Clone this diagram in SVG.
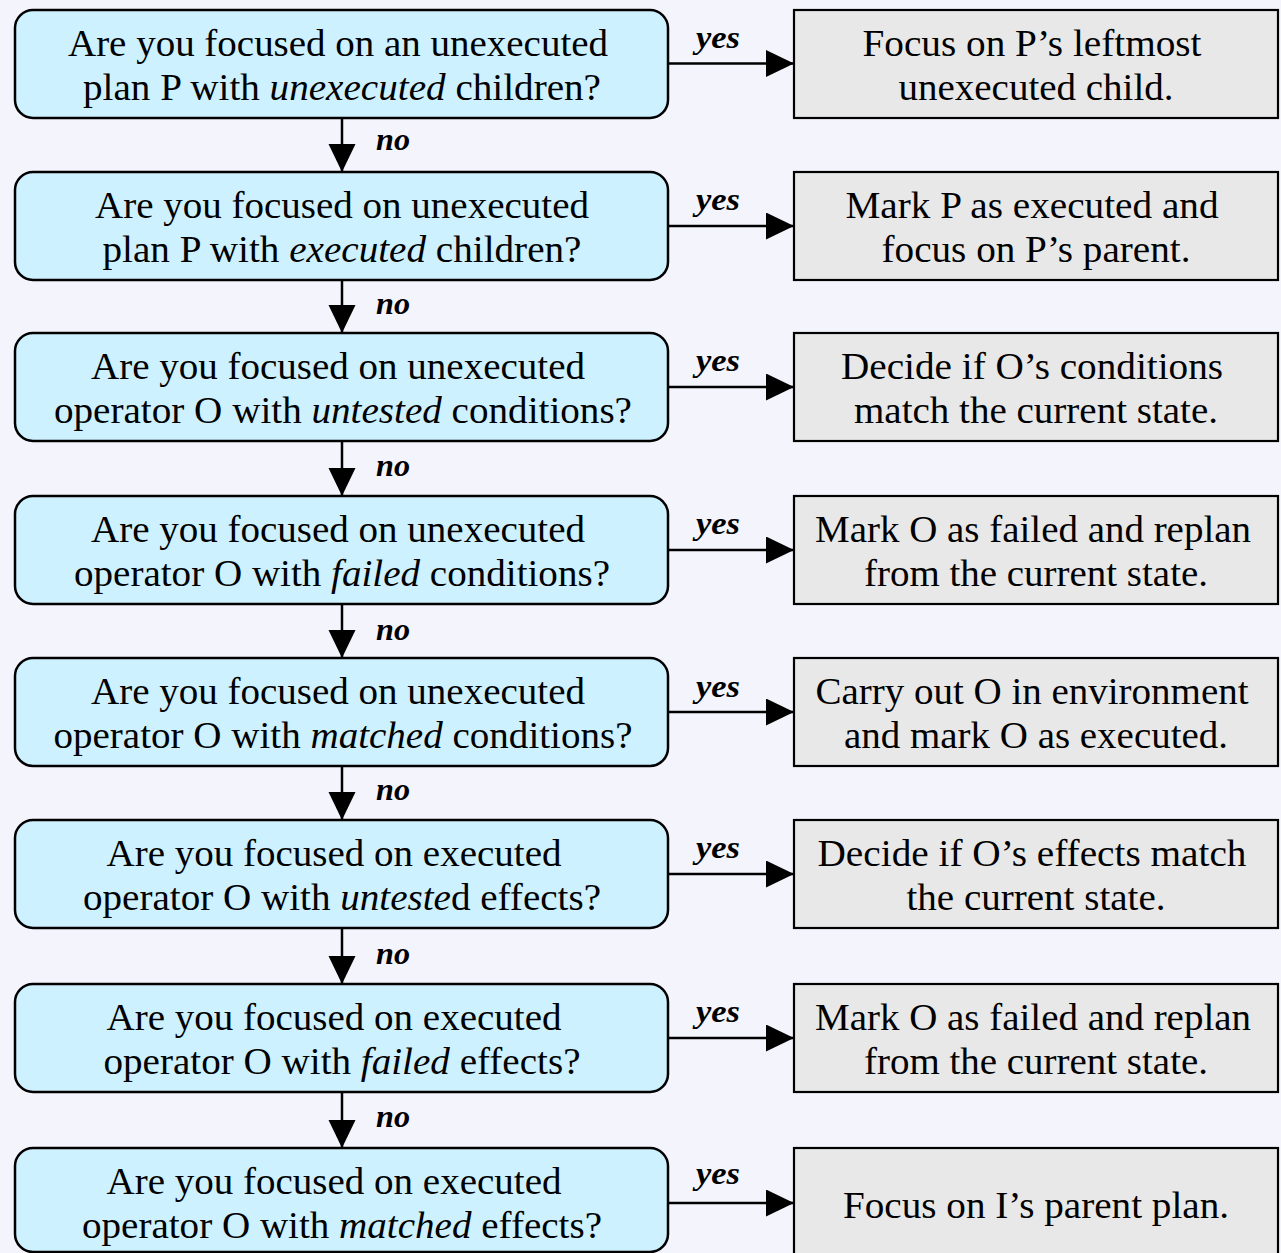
<svg xmlns="http://www.w3.org/2000/svg" width="1281" height="1253" viewBox="0 0 1281 1253">
  <style>
    .q { fill: #cdf1ff; stroke: #000; stroke-width: 2.5; }
    .a { fill: #e8e8e8; stroke: #000; stroke-width: 2.2; }
    .t { font-family: "Liberation Serif", "Times New Roman", serif; font-size: 37px; fill: #000; text-anchor: middle; }
    .lbl { font-family: "Liberation Serif", "Times New Roman", serif; font-size: 31px; font-style: italic; font-weight: bold; fill: #000; }
    .e { font-style: italic; }
    .c { stroke: #000; stroke-width: 2.5; fill: none; }
  </style>
  <defs>
    <marker id="arr" markerUnits="userSpaceOnUse" markerWidth="30" markerHeight="30" refX="28" refY="13.5" orient="auto">
      <path d="M0,0 L28,13.5 L0,27 Z" fill="#000"/>
    </marker>
  </defs>
  <rect width="1281" height="1253" fill="#f4f4fc"/>

  <!-- question nodes -->
  <g id="q1"><rect class="q" x="15" y="10" width="653" height="108" rx="18"/>
    <text class="t" x="338" y="56" textLength="540" lengthAdjust="spacingAndGlyphs">Are you focused on an unexecuted</text>
    <text class="t" x="342" y="100" textLength="518" lengthAdjust="spacingAndGlyphs">plan P with <tspan class="e">unexecuted</tspan> children?</text></g>
  <g id="q2"><rect class="q" x="15" y="172" width="653" height="108" rx="18"/>
    <text class="t" x="342" y="218" textLength="494" lengthAdjust="spacingAndGlyphs">Are you focused on unexecuted</text>
    <text class="t" x="342" y="262" textLength="479" lengthAdjust="spacingAndGlyphs">plan P with <tspan class="e">executed</tspan> children?</text></g>
  <g id="q3"><rect class="q" x="15" y="333" width="653" height="108" rx="18"/>
    <text class="t" x="338" y="379" textLength="494" lengthAdjust="spacingAndGlyphs">Are you focused on unexecuted</text>
    <text class="t" x="343" y="423" textLength="578" lengthAdjust="spacingAndGlyphs">operator O with <tspan class="e">untested</tspan> conditions?</text></g>
  <g id="q4"><rect class="q" x="15" y="496" width="653" height="108" rx="18"/>
    <text class="t" x="338" y="542" textLength="494" lengthAdjust="spacingAndGlyphs">Are you focused on unexecuted</text>
    <text class="t" x="342" y="586" textLength="536" lengthAdjust="spacingAndGlyphs">operator O with <tspan class="e">failed</tspan> conditions?</text></g>
  <g id="q5"><rect class="q" x="15" y="658" width="653" height="108" rx="18"/>
    <text class="t" x="338" y="704" textLength="494" lengthAdjust="spacingAndGlyphs">Are you focused on unexecuted</text>
    <text class="t" x="343" y="748" textLength="579" lengthAdjust="spacingAndGlyphs">operator O with <tspan class="e">matched</tspan> conditions?</text></g>
  <g id="q6"><rect class="q" x="15" y="820" width="653" height="108" rx="18"/>
    <text class="t" x="334" y="866" textLength="455" lengthAdjust="spacingAndGlyphs">Are you focused on executed</text>
    <text class="t" x="342" y="910" textLength="518" lengthAdjust="spacingAndGlyphs">operator O with <tspan class="e">unteste</tspan>d effects?</text></g>
  <g id="q7"><rect class="q" x="15" y="984" width="653" height="108" rx="18"/>
    <text class="t" x="334" y="1030" textLength="455" lengthAdjust="spacingAndGlyphs">Are you focused on executed</text>
    <text class="t" x="342" y="1074" textLength="477" lengthAdjust="spacingAndGlyphs">operator O with <tspan class="e">failed</tspan> effects?</text></g>
  <g id="q8"><rect class="q" x="15" y="1148" width="653" height="104" rx="18"/>
    <text class="t" x="334" y="1194" textLength="455" lengthAdjust="spacingAndGlyphs">Are you focused on executed</text>
    <text class="t" x="342" y="1238" textLength="520" lengthAdjust="spacingAndGlyphs">operator O with <tspan class="e">matched</tspan> effects?</text></g>

  <!-- action nodes -->
  <g id="a1"><rect class="a" x="794" y="10" width="484" height="108"/>
    <text class="t" x="1032" y="56" textLength="339" lengthAdjust="spacingAndGlyphs">Focus on P’s leftmost</text>
    <text class="t" x="1036" y="100" textLength="275" lengthAdjust="spacingAndGlyphs">unexecuted child.</text></g>
  <g id="a2"><rect class="a" x="794" y="172" width="484" height="108"/>
    <text class="t" x="1032" y="218" textLength="373" lengthAdjust="spacingAndGlyphs">Mark P as executed and</text>
    <text class="t" x="1036" y="262" textLength="309" lengthAdjust="spacingAndGlyphs">focus on P’s parent.</text></g>
  <g id="a3"><rect class="a" x="794" y="333" width="484" height="108"/>
    <text class="t" x="1032" y="379" textLength="382" lengthAdjust="spacingAndGlyphs">Decide if O’s conditions</text>
    <text class="t" x="1036" y="423" textLength="364" lengthAdjust="spacingAndGlyphs">match the current state.</text></g>
  <g id="a4"><rect class="a" x="794" y="496" width="484" height="108"/>
    <text class="t" x="1033" y="542" textLength="436" lengthAdjust="spacingAndGlyphs">Mark O as failed and replan</text>
    <text class="t" x="1036" y="586" textLength="344" lengthAdjust="spacingAndGlyphs">from the current state.</text></g>
  <g id="a5"><rect class="a" x="794" y="658" width="484" height="108"/>
    <text class="t" x="1032" y="704" textLength="433" lengthAdjust="spacingAndGlyphs">Carry out O in environment</text>
    <text class="t" x="1036" y="748" textLength="384" lengthAdjust="spacingAndGlyphs">and mark O as executed.</text></g>
  <g id="a6"><rect class="a" x="794" y="820" width="484" height="108"/>
    <text class="t" x="1032" y="866" textLength="429" lengthAdjust="spacingAndGlyphs">Decide if O’s effects match</text>
    <text class="t" x="1036" y="910" textLength="259" lengthAdjust="spacingAndGlyphs">the current state.</text></g>
  <g id="a7"><rect class="a" x="794" y="984" width="484" height="108"/>
    <text class="t" x="1033" y="1030" textLength="436" lengthAdjust="spacingAndGlyphs">Mark O as failed and replan</text>
    <text class="t" x="1036" y="1074" textLength="344" lengthAdjust="spacingAndGlyphs">from the current state.</text></g>
  <g id="a8"><rect class="a" x="794" y="1148" width="484" height="112"/>
    <text class="t" x="1036" y="1218" textLength="386" lengthAdjust="spacingAndGlyphs">Focus on I’s parent plan.</text></g>

  <!-- connectors -->
  <g id="connectors">
    <path class="c" d="M668,63.5 H794" marker-end="url(#arr)"/>
    <path class="c" d="M668,226 H794" marker-end="url(#arr)"/>
    <path class="c" d="M668,387 H794" marker-end="url(#arr)"/>
    <path class="c" d="M668,550 H794" marker-end="url(#arr)"/>
    <path class="c" d="M668,712 H794" marker-end="url(#arr)"/>
    <path class="c" d="M668,874 H794" marker-end="url(#arr)"/>
    <path class="c" d="M668,1038 H794" marker-end="url(#arr)"/>
    <path class="c" d="M668,1203 H794" marker-end="url(#arr)"/>

    <path class="c" d="M342,118 V172" marker-end="url(#arr)"/>
    <path class="c" d="M342,280 V333" marker-end="url(#arr)"/>
    <path class="c" d="M342,441 V496" marker-end="url(#arr)"/>
    <path class="c" d="M342,604 V658" marker-end="url(#arr)"/>
    <path class="c" d="M342,766 V820" marker-end="url(#arr)"/>
    <path class="c" d="M342,928 V984" marker-end="url(#arr)"/>
    <path class="c" d="M342,1092 V1148" marker-end="url(#arr)"/>

    <text class="lbl" x="696" y="48" textLength="44" lengthAdjust="spacingAndGlyphs">yes</text>
    <text class="lbl" x="696" y="210" textLength="44" lengthAdjust="spacingAndGlyphs">yes</text>
    <text class="lbl" x="696" y="371" textLength="44" lengthAdjust="spacingAndGlyphs">yes</text>
    <text class="lbl" x="696" y="534" textLength="44" lengthAdjust="spacingAndGlyphs">yes</text>
    <text class="lbl" x="696" y="697" textLength="44" lengthAdjust="spacingAndGlyphs">yes</text>
    <text class="lbl" x="696" y="858" textLength="44" lengthAdjust="spacingAndGlyphs">yes</text>
    <text class="lbl" x="696" y="1022" textLength="44" lengthAdjust="spacingAndGlyphs">yes</text>
    <text class="lbl" x="696" y="1184" textLength="44" lengthAdjust="spacingAndGlyphs">yes</text>

    <text class="lbl" x="376" y="150" textLength="34" lengthAdjust="spacingAndGlyphs">no</text>
    <text class="lbl" x="376" y="314" textLength="34" lengthAdjust="spacingAndGlyphs">no</text>
    <text class="lbl" x="376" y="476" textLength="34" lengthAdjust="spacingAndGlyphs">no</text>
    <text class="lbl" x="376" y="640" textLength="34" lengthAdjust="spacingAndGlyphs">no</text>
    <text class="lbl" x="376" y="800" textLength="34" lengthAdjust="spacingAndGlyphs">no</text>
    <text class="lbl" x="376" y="964" textLength="34" lengthAdjust="spacingAndGlyphs">no</text>
    <text class="lbl" x="376" y="1127" textLength="34" lengthAdjust="spacingAndGlyphs">no</text>
  </g>
</svg>
